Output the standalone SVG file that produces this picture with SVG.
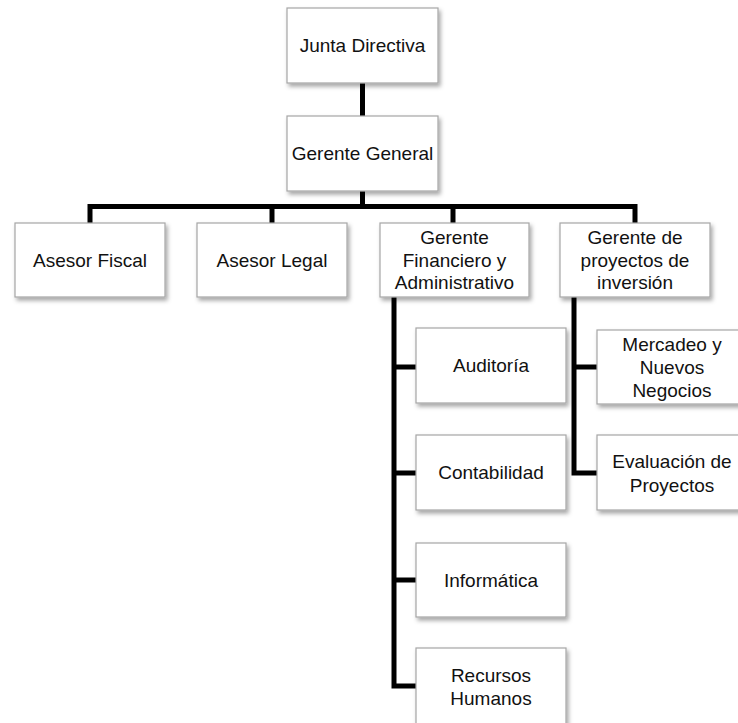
<svg xmlns="http://www.w3.org/2000/svg" width="738" height="723" viewBox="0 0 738 723">
<defs>
<filter id="sh" x="-10%" y="-10%" width="130%" height="140%">
<feDropShadow dx="2" dy="3" stdDeviation="2" flood-color="#000" flood-opacity="0.35"/>
</filter>
</defs>
<style>
.box{fill:#fff;stroke:#a6a6a6;stroke-width:1.2;filter:url(#sh)}
.t{font-family:"Liberation Sans",Arial,sans-serif;font-size:19px;fill:#111;text-anchor:middle;dominant-baseline:central}
.c{fill:none;stroke:#000;stroke-width:5;stroke-linejoin:miter;stroke-linecap:butt}
</style>
<rect width="738" height="723" fill="#fff"/>
<g id="connectors">
<path class="c" d="M362.5 83V116"/>
<path class="c" d="M362.5 191V206.5"/>
<path class="c" d="M90 223V206.5H635V223"/>
<path class="c" d="M272 206.5V223"/>
<path class="c" d="M453 206.5V223"/>
<path class="c" d="M394 297V686H416"/>
<path class="c" d="M394 367H416"/>
<path class="c" d="M394 473H416"/>
<path class="c" d="M394 580H416"/>
<path class="c" d="M574 297V473H598"/>
<path class="c" d="M574 367H598"/>
</g>
<g id="junta"><rect class="box" x="287" y="8" width="151" height="75"/><text class="t" x="362.5" y="45.5">Junta Directiva</text></g>
<g id="gerente-general"><rect class="box" x="287" y="116" width="151" height="75"/><text class="t" x="362.5" y="153.5">Gerente General</text></g>
<g id="asesor-fiscal"><rect class="box" x="15" y="223" width="150" height="74"/><text class="t" x="90" y="260">Asesor Fiscal</text></g>
<g id="asesor-legal"><rect class="box" x="197" y="223" width="150" height="74"/><text class="t" x="272" y="260">Asesor Legal</text></g>
<g id="gerente-financiero"><rect class="box" x="380" y="223" width="149" height="74"/><text class="t" x="454.5" y="237.5">Gerente</text><text class="t" x="454.5" y="260">Financiero y</text><text class="t" x="454.5" y="282.5">Administrativo</text></g>
<g id="gerente-proyectos"><rect class="box" x="560" y="223" width="150" height="74"/><text class="t" x="635" y="237.5">Gerente de</text><text class="t" x="635" y="260">proyectos de</text><text class="t" x="635" y="282.5">inversión</text></g>
<g id="auditoria"><rect class="box" x="416" y="328" width="150" height="75"/><text class="t" x="491" y="365.5">Auditoría</text></g>
<g id="contabilidad"><rect class="box" x="416" y="435" width="150" height="75"/><text class="t" x="491" y="472.5">Contabilidad</text></g>
<g id="informatica"><rect class="box" x="416" y="543" width="150" height="74"/><text class="t" x="491" y="580">Informática</text></g>
<g id="recursos-humanos"><rect class="box" x="416" y="648" width="150" height="80"/><text class="t" x="491" y="675">Recursos</text><text class="t" x="491" y="698">Humanos</text></g>
<g id="mercadeo"><rect class="box" x="597" y="330" width="150" height="74"/><text class="t" x="672" y="344">Mercadeo y</text><text class="t" x="672" y="367">Nuevos</text><text class="t" x="672" y="390">Negocios</text></g>
<g id="evaluacion"><rect class="box" x="597" y="435" width="150" height="75"/><text class="t" x="672" y="461">Evaluación de</text><text class="t" x="672" y="485">Proyectos</text></g>
</svg>
